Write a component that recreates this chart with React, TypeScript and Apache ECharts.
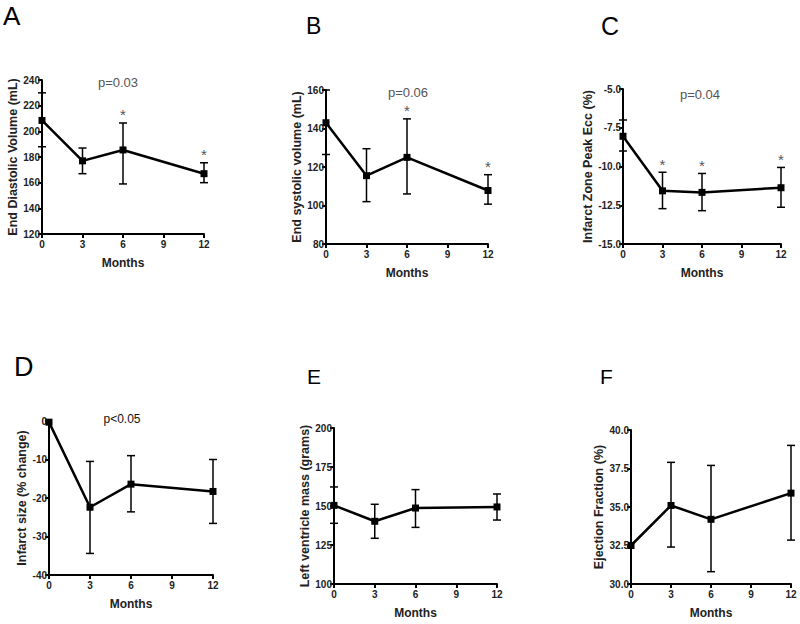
import React, { useEffect, useRef } from "react";
import * as echarts from "echarts";

const months = [0, 3, 6, 12];

// A: End diastolic volume
const edvMean = [208.5, 177, 185.5, 167];
const edvHigh = [230, 187, 206.5, 175.5];
const edvLow = [188, 167, 159, 160];
const edvSig = [0, 0, 1, 1];

// B: End systolic volume
const esvMean = [143, 115.5, 125, 107.8];
const esvHigh = [160, 129.5, 145, 116];
const esvLow = [126.5, 102, 106, 100.7];
const esvSig = [0, 0, 1, 1];

// C: Infarct zone peak Ecc
const eccMean = [-8.05, -11.57, -11.67, -11.37];
const eccHigh = [-7.0, -10.37, -10.45, -10.06];
const eccLow = [-9.0, -12.72, -12.85, -12.63];
const eccSig = [0, 1, 1, 1];

// D: Infarct size
const infMean = [-0.3, -22.4, -16.4, -18.3];
const infHigh = [-0.3, -10.5, -9.0, -10.0];
const infLow = [-0.3, -34.4, -23.6, -26.6];
const infSig = [0, 0, 0, 0];

// E: LV mass
const lvmMean = [150.4, 140.2, 148.7, 149.4];
const lvmHigh = [162.2, 151.1, 160.5, 157.7];
const lvmLow = [138.9, 129.3, 136.3, 141.0];
const lvmSig = [0, 0, 0, 0];

// F: Ejection fraction
const efMean = [32.5, 35.1, 34.2, 35.9];
const efHigh = [32.5, 37.9, 37.7, 39.0];
const efLow = [32.5, 32.4, 30.8, 32.85];
const efSig = [0, 0, 0, 0];

const panelLetters = ["A", "B", "C", "D", "E", "F"];
const yTitles = [
  "End Diastolic Volume (mL)",
  "End systolic volume (mL)",
  "Infarct Zone Peak Ecc (%)",
  "Infarct size (% change)",
  "Left ventricle mass (grams)",
  "Ejection Fraction (%)",
];
const pTexts = ["p=0.03", "p=0.06", "p=0.04", "p<0.05", "", ""];
const yRanges = [
  [120, 240, 20, 0],
  [80, 160, 20, 0],
  [-15, -5, 2.5, 1],
  [-40, 0, 10, 0],
  [100, 200, 25, 0],
  [30, 40, 2.5, 1],
];

const means = [edvMean, esvMean, eccMean, infMean, lvmMean, efMean];
const highs = [edvHigh, esvHigh, eccHigh, infHigh, lvmHigh, efHigh];
const lows = [edvLow, esvLow, eccLow, infLow, lvmLow, efLow];
const sigs = [edvSig, esvSig, eccSig, infSig, lvmSig, efSig];

// layout (styles)
const grids = [
  { left: 42, top: 80, width: 162, height: 154 },
  { left: 326, top: 90, width: 162, height: 154 },
  { left: 623, top: 89, width: 158, height: 155 },
  { left: 49, top: 421, width: 164, height: 154 },
  { left: 334, top: 428, width: 163, height: 156 },
  { left: 631, top: 430, width: 160, height: 154 },
];
const nameGaps = [19, 20, 24, 18, 17, 22];
const letterPos = [
  { x: 3, y: 3, s: 26 },
  { x: 306, y: 14, s: 23 },
  { x: 601, y: 13, s: 25 },
  { x: 14, y: 353, s: 27 },
  { x: 307, y: 366, s: 21 },
  { x: 600, y: 366, s: 21 },
];
const pPos = [
  { x: 118, y: 82 },
  { x: 408, y: 92 },
  { x: 700, y: 94 },
  { x: 122, y: 419 },
];

const NARROW = '"Liberation Sans Narrow", "Arial Narrow", "Liberation Sans", Arial, sans-serif';
const SANS = '"Liberation Sans", Arial, sans-serif';

export default function App() {
  const ref = useRef<HTMLDivElement>(null);
  useEffect(() => {
    if (!ref.current) return;
    const chart = echarts.init(ref.current, null, { renderer: "svg" });

    const grid: any[] = [];
    const xAxis: any[] = [];
    const yAxis: any[] = [];
    const series: any[] = [];
    const graphic: any[] = [];

    for (let i = 0; i < 6; i++) {
      const g = grids[i];
      grid.push({ ...g, containLabel: false });
      xAxis.push({
        type: "value",
        gridIndex: i,
        min: 0,
        max: 12,
        interval: 3,
        name: "Months",
        nameLocation: "middle",
        nameGap: 23,
        nameTextStyle: { fontFamily: NARROW, fontWeight: "bold", fontSize: 12, color: "#222" },
        axisLine: { onZero: false, lineStyle: { color: "#000", width: 2 } },
        axisTick: { show: true, length: 4, lineStyle: { color: "#000", width: 2 } },
        axisLabel: { fontFamily: NARROW, fontWeight: "bold", fontSize: 10, color: "#222", margin: 5 },
        splitLine: { show: false },
      });
      const [mn, mx, step, dec] = yRanges[i];
      yAxis.push({
        type: "value",
        gridIndex: i,
        min: mn,
        max: mx,
        interval: step,
        name: yTitles[i],
        nameLocation: "middle",
        nameGap: nameGaps[i],
        nameRotate: 90,
        nameTextStyle: { fontFamily: SANS, fontWeight: "bold", fontSize: 12.5, color: "#222" },
        axisLine: { onZero: false, lineStyle: { color: "#000", width: 2 } },
        axisTick: { show: true, length: 4, lineStyle: { color: "#000", width: 2 } },
        axisLabel: {
          fontFamily: NARROW,
          fontWeight: "bold",
          fontSize: 10,
          color: "#222",
          margin: 2,
          formatter: (v: number) => v.toFixed(dec),
        },
        splitLine: { show: false },
      });

      const errData = months.map((m, k) => [m, lows[i][k], highs[i][k], sigs[i][k]]);
      series.push({
        type: "custom",
        xAxisIndex: i,
        yAxisIndex: i,
        data: errData,
        encode: { x: 0, y: [1, 2] },
        clip: false,
        z: 2,
        renderItem: (params: any, api: any) => {
          const x = api.value(0);
          const lo = api.value(1);
          const hi = api.value(2);
          const sig = api.value(3);
          const pt = api.coord([x, hi]);
          const pb = api.coord([x, lo]);
          const w = 4;
          const style = { stroke: "#000", lineWidth: 1.5 };
          const children: any[] = [];
          if (hi !== lo) {
            children.push(
              { type: "line", shape: { x1: pt[0], y1: pt[1], x2: pb[0], y2: pb[1] }, style },
              { type: "line", shape: { x1: pt[0] - w, y1: pt[1], x2: pt[0] + w, y2: pt[1] }, style },
              { type: "line", shape: { x1: pb[0] - w, y1: pb[1], x2: pb[0] + w, y2: pb[1] }, style }
            );
          }
          if (sig) {
            children.push({
              type: "text",
              x: pt[0],
              y: pt[1] - 8,
              style: {
                text: "*",
                fill: "#555",
                fontSize: 15,
                fontFamily: SANS,
                align: "center",
                verticalAlign: "middle",
              },
            });
          }
          return { type: "group", children };
        },
      });
      series.push({
        type: "line",
        xAxisIndex: i,
        yAxisIndex: i,
        data: months.map((m, k) => [m, means[i][k]]),
        symbol: "rect",
        symbolSize: 7,
        z: 3,
        lineStyle: { color: "#000", width: 2.5 },
        itemStyle: { color: "#000" },
      });

      const lp = letterPos[i];
      graphic.push({
        type: "text",
        left: lp.x,
        top: lp.y,
        style: { text: panelLetters[i], fontSize: lp.s, fontFamily: SANS, fill: "#000" },
      });
      if (pTexts[i]) {
        const pp = pPos[i];
        const isD = i === 3;
        graphic.push({
          type: "text",
          x: pp.x,
          y: pp.y,
          style: {
            text: pTexts[i],
            fontSize: isD ? 12 : 13,
            fontFamily: isD ? NARROW : SANS,
            fill: isD ? "#111" : "#555",
            align: "center",
            verticalAlign: "middle",
          },
        });
      }
    }

    chart.setOption({
      animation: false,
      backgroundColor: "#fff",
      grid,
      xAxis,
      yAxis,
      series,
      graphic,
    });
    return () => chart.dispose();
  }, []);
  return (
    <div
      ref={ref}
      style={{ position: "fixed", left: 0, top: 0, width: 800, height: 624, background: "#fff" }}
    />
  );
}
